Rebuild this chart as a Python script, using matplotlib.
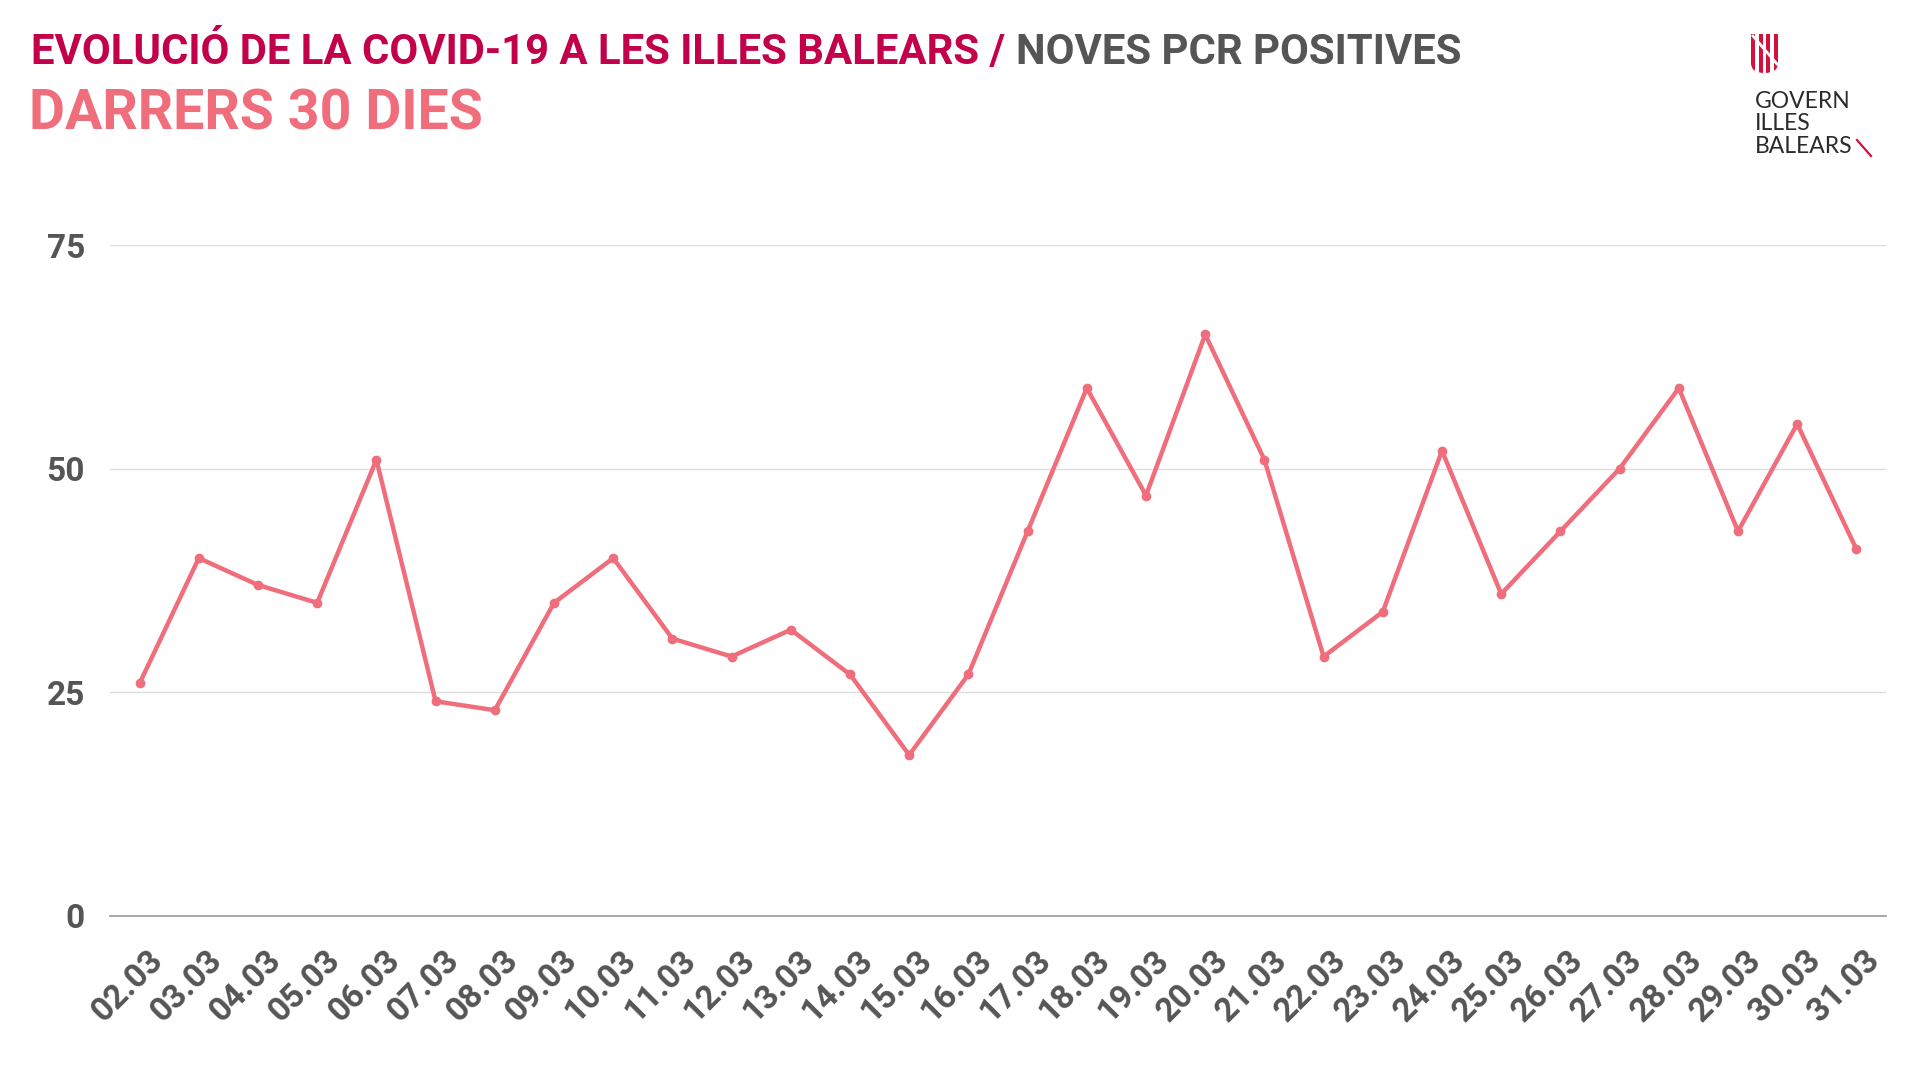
import matplotlib.pyplot as plt
import matplotlib.patches as mpatches
import matplotlib.transforms as mtransforms
from matplotlib.path import Path

# Data
dates = ['02.03', '03.03', '04.03', '05.03', '06.03', '07.03', '08.03', '09.03',
         '10.03', '11.03', '12.03', '13.03', '14.03', '15.03', '16.03', '17.03',
         '18.03', '19.03', '20.03', '21.03', '22.03', '23.03', '24.03', '25.03',
         '26.03', '27.03', '28.03', '29.03', '30.03', '31.03']
pcr_positives = [26, 40, 37, 35, 51, 24, 23, 35, 40, 31, 29, 32, 27, 18, 27, 43,
                 59, 47, 65, 51, 29, 34, 52, 36, 43, 50, 59, 43, 55, 41]
y_ticks = [0, 25, 50, 75]

title_red = 'EVOLUCIÓ DE LA COVID-19 A LES ILLES BALEARS / '
title_grey = 'NOVES PCR POSITIVES'
subtitle = 'DARRERS 30 DIES'

RED = '#C3004A'
PINK = '#F06D7C'
GREY = '#555555'

plt.rcParams['font.family'] = ['Roboto', 'DejaVu Sans']

W, H = 1920, 1080
fig = plt.figure(figsize=(19.2, 10.8), dpi=100)
ax = fig.add_axes([110 / W, 1 - 916 / H, (1886 - 110) / W, (916 - 245) / H])

x = range(len(dates))
ax.plot(x, pcr_positives, color=PINK, lw=3.2, marker='o', ms=6, clip_on=False,
        solid_joinstyle='round')

ax.set_xlim(-0.5, len(dates) - 0.5)
ax.set_ylim(0, 75)
ax.set_yticks(y_ticks)
ax.set_xticks(list(x))
ax.set_xticklabels(dates, rotation=45, ha='right', va='top', rotation_mode='anchor')
ax.tick_params(length=0, labelsize=24, labelcolor=GREY)
ax.tick_params(axis='x', pad=20)
ax.tick_params(axis='y', pad=18)
shift = mtransforms.ScaledTranslation(7 / 100, 0, fig.dpi_scale_trans)
for lab in ax.get_xticklabels():
    lab.set_transform(lab.get_transform() + shift)
for lab in ax.get_xticklabels() + ax.get_yticklabels():
    lab.set_fontweight('bold')
ax.yaxis.grid(True, color='#dddddd', lw=1)
ax.set_axisbelow(True)
for s in ['top', 'right', 'left']:
    ax.spines[s].set_visible(False)
ax.spines['bottom'].set_color('#999999')
ax.spines['bottom'].set_linewidth(1.2)

# Titles
t1 = fig.text(31 / W, 1 - 64 / H, title_red, color=RED, fontsize=30.2,
              fontweight='bold', va='baseline')
fig.canvas.draw()
bb = t1.get_window_extent()
fig.text(bb.x1 / W, 1 - 64 / H, title_grey, color=GREY, fontsize=30.2,
         fontweight='bold', va='baseline')
fig.text(29 / W, 1 - 130 / H, subtitle, color=PINK, fontsize=40,
         fontweight='bold', va='baseline')

# Logo: shield with stripes
def fx(px):
    return px / W

def fy(py):
    return 1 - py / H

sx0, sx1, sy0, sy1 = 1751, 1778, 34, 73
verts = [(fx(sx0), fy(sy0)), (fx(sx1), fy(sy0)), (fx(sx1), fy(sy1 - 10)),
         (fx(sx1), fy(sy1)), (fx((sx0 + sx1) / 2), fy(sy1)),
         (fx(sx0), fy(sy1)), (fx(sx0), fy(sy1 - 10)), (fx(sx0), fy(sy0))]
codes = [Path.MOVETO, Path.LINETO, Path.LINETO, Path.CURVE3, Path.CURVE3,
         Path.CURVE3, Path.CURVE3, Path.CLOSEPOLY]
shield = mpatches.PathPatch(Path(verts, codes), transform=fig.transFigure,
                            facecolor='none', edgecolor='none')
fig.add_artist(shield)
stripe_w = (sx1 - sx0) / 7
for i in range(4):
    r = mpatches.Rectangle((fx(sx0 + 2 * i * stripe_w), fy(sy1)), stripe_w / W,
                           (sy1 - sy0) / H, transform=fig.transFigure,
                           facecolor='#D4103F', edgecolor='none')
    fig.add_artist(r)
    r.set_clip_path(shield)
slash = plt.Line2D([fx(sx0 + 2), fx(sx1 - 1)], [fy(sy0 + 2), fy(sy0 + 30)],
                   transform=fig.transFigure, color='white', lw=2)
fig.add_artist(slash)

for i, word in enumerate(['GOVERN', 'ILLES', 'BALEARS']):
    fig.text(fx(1755), fy(108 + 22.5 * i), word, color='#2b2b2b', fontsize=16.5,
             family=['Lato', 'DejaVu Sans'], fontweight='normal', va='baseline')
fig.add_artist(plt.Line2D([fx(1857), fx(1871)], [fy(140), fy(156)],
                          transform=fig.transFigure, color='#D4103F', lw=1.6))

fig.savefig('out.png', dpi=100)
